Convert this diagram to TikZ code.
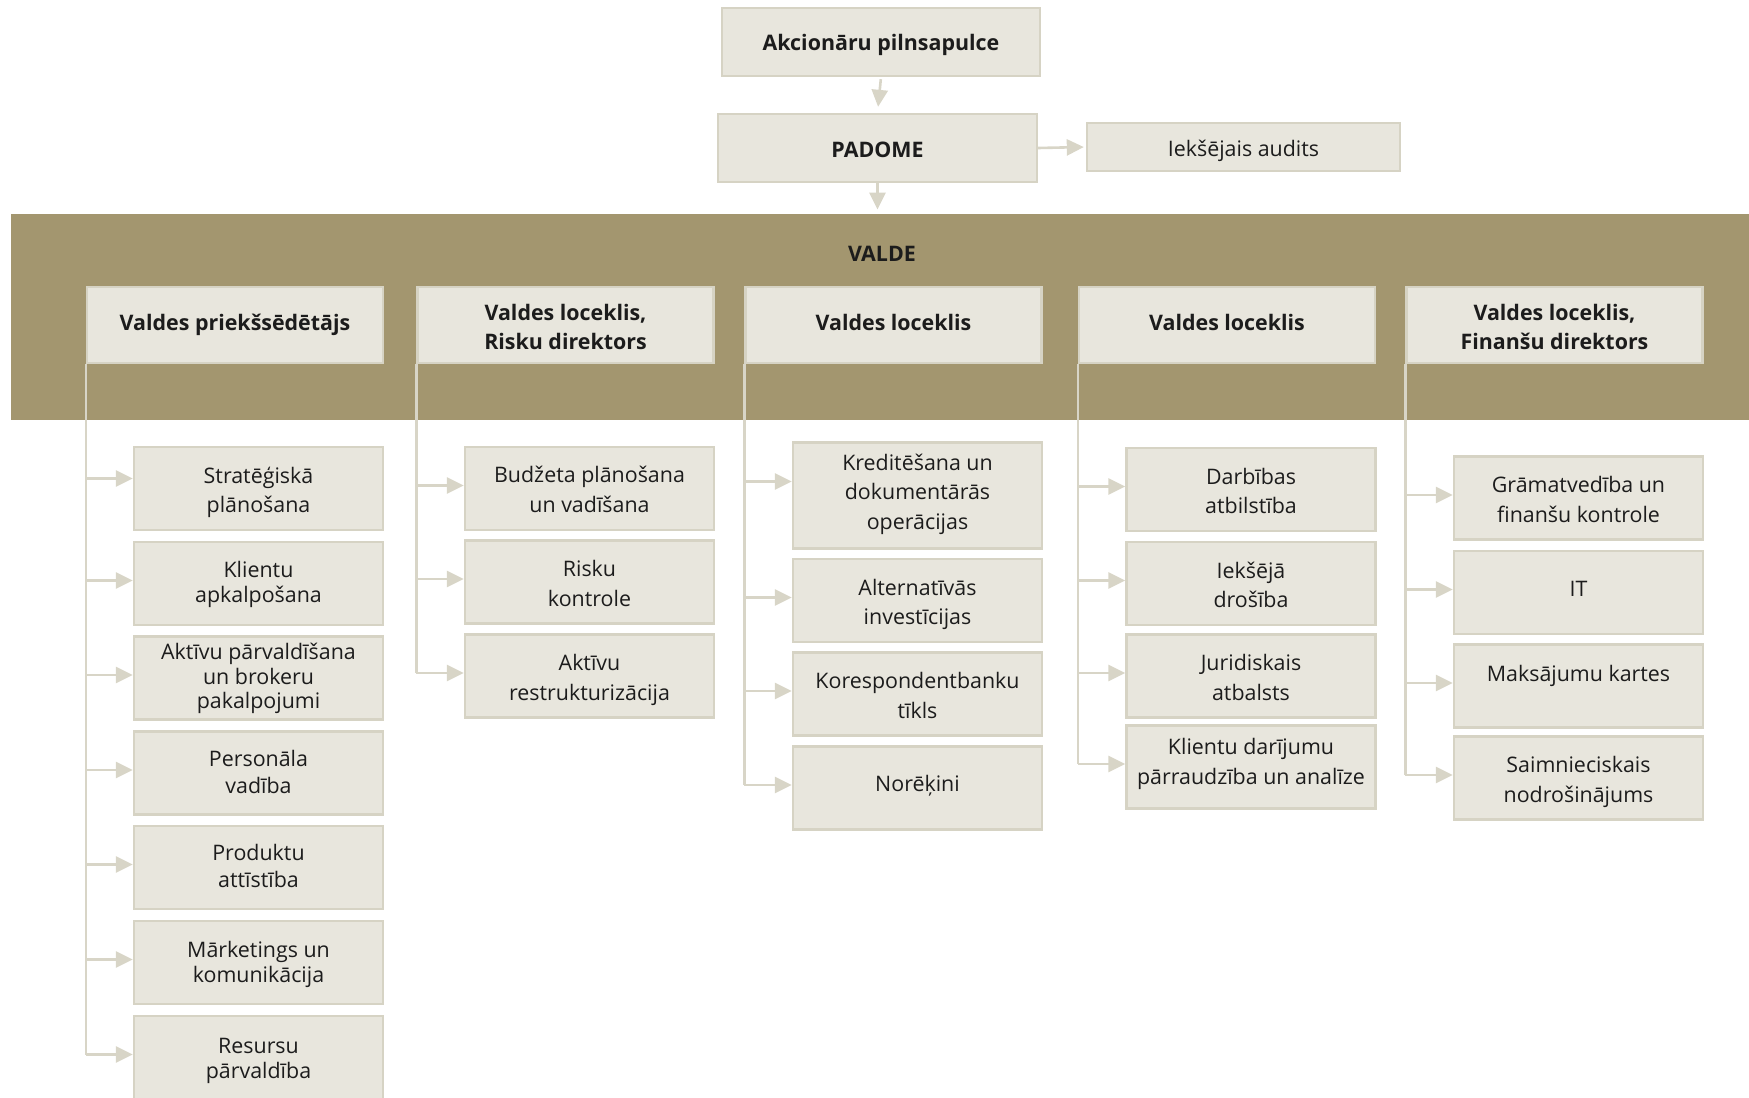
\documentclass[tikz,border=0pt]{standalone}
\usepackage{fontspec}
\setmainfont{Open Sans}
\usetikzlibrary{arrows.meta}
\definecolor{boxfill}{HTML}{E8E6DD}
\definecolor{boxline}{HTML}{D6D3C4}
\definecolor{arrowc}{HTML}{D8D5C7}
\definecolor{bandc}{HTML}{A3966F}
\definecolor{txtc}{HTML}{1C1C1C}
% centred lines with uniform struts; ink moved by #1 (minus a common 1.7pt) without changing the box size
\newcommand{\tlup}[2]{\raisebox{\dimexpr #1-1.7pt\relax}[\height][\depth]{\begin{tabular}{@{}c@{}}#2\end{tabular}}}
\newcommand{\tl}[1]{\tlup{0pt}{#1}}
\begin{document}
\begin{tikzpicture}[x=0.5pt,y=-0.5pt,
  box/.style={draw=boxline, fill=boxfill, line width=1.2pt, inner sep=0pt,
              text=txtc, font=\fontsize{10.7}{14.8}\selectfont},
  hbox/.style={box, minimum width=148pt, minimum height=38pt, font=\fontsize{10.7}{14.2}\selectfont\bfseries},
  cbox/.style={box, minimum width=124.5pt, minimum height=41.5pt},
  tight/.style={font=\fontsize{10.7}{12.9}\selectfont},
  btxt/.style={inner sep=0pt, text=txtc, font=\fontsize{10.7}{14.2}\selectfont\bfseries},
  conn/.style={draw=arrowc, line width=1.3pt},
  arr/.style={conn, -{Triangle[length=8.5pt,width=8pt]}}
]
\useasboundingbox (0,0) rectangle (1749,1097);

% top
\node[box, minimum width=159pt, minimum height=34pt, font=\fontsize{10.7}{14}\selectfont\bfseries] (agm) at (881,42) {\tl{Akcionāru pilnsapulce}};
\node[box, minimum width=159.5pt, minimum height=34pt, font=\fontsize{10.7}{14}\selectfont\bfseries] (padome) at (877.5,148) {\tl{PADOME}};
\node[box, minimum width=156.5pt, minimum height=24pt] (audit) at (1243.5,147) {\tl{Iekšējais audits}};

% band
\node[fill=bandc, inner sep=0pt, minimum width=869pt, minimum height=103pt] (valde) at (880,317) {};
\node[btxt] (valdet) at (882,252) {\tl{VALDE}};

\draw[arr, shorten <=1pt, shorten >=3pt] (agm.south) -- (padome.north);
\draw[arr, shorten >=1pt] (padome.east) -- (audit.west);
\draw[arr, shorten >=2pt] (padome.south) -- (padome.south |- valde.north);

% headers
\node[hbox] (h1) at (235,325) {\tlup{2pt}{Valdes priekšsēdētājs}};
\node[hbox] (h2) at (565.5,325) {\tlup{-0.5pt}{Valdes loceklis,\\Risku direktors}};
\node[hbox] (h3) at (893.5,325) {\tlup{2pt}{Valdes loceklis}};
\node[hbox] (h4) at (1227,325) {\tlup{2pt}{Valdes loceklis}};
\node[hbox] (h5) at (1554.5,325) {\tlup{-0.5pt}{Valdes loceklis,\\Finanšu direktors}};

% column 1
\node[cbox] (c11) at (258.5,488.5) {\tl{Stratēģiskā\\plānošana}};
\node[cbox, tight] (c12) at (258.5,583.5) {\tlup{1pt}{Klientu\\apkalpošana}};
\node[cbox, font=\fontsize{10.7}{12.3}\selectfont] (c13) at (258.5,678) {\tlup{1pt}{Aktīvu pārvaldīšana\\un brokeru\\pakalpojumi}};
\node[cbox, font=\fontsize{10.7}{13.4}\selectfont] (c14) at (258.5,773) {\tlup{1pt}{Personāla\\vadība}};
\node[cbox, font=\fontsize{10.7}{13.4}\selectfont] (c15) at (258.5,867.5) {\tlup{1pt}{Produktu\\attīstība}};
\node[cbox, tight] (c16) at (258.5,962.5) {\tlup{0.5pt}{Mārketings un\\komunikācija}};
\node[cbox, tight] (c17) at (258.5,1057.5) {\tl{Resursu\\pārvaldība}};

% column 2
\node[cbox, font=\fontsize{10.7}{15}\selectfont] (c21) at (589.5,488.5) {\tl{Budžeta plānošana\\un vadīšana}};
\node[cbox, font=\fontsize{10.7}{15}\selectfont] (c22) at (589.5,582) {\tl{Risku\\kontrole}};
\node[cbox, font=\fontsize{10.7}{15}\selectfont] (c23) at (589.5,676) {\tl{Aktīvu\\restrukturizācija}};

% column 3
\node[cbox, minimum height=53pt] (c31) at (917.5,495.5) {\tlup{2.5pt}{Kreditēšana un\\dokumentārās\\operācijas}};
\node[cbox] (c32) at (917.5,600.5) {\tl{Alternatīvās\\investīcijas}};
\node[cbox] (c33) at (917.5,694) {\tl{Korespondentbanku\\tīkls}};
\node[cbox] (c34) at (917.5,788) {\tlup{3pt}{Norēķini}};

% column 4
\node[cbox] (c41) at (1251,489.5) {\tl{Darbības\\atbilstība}};
\node[cbox] (c42) at (1251,583.5) {\tl{Iekšējā\\drošība}};
\node[cbox] (c43) at (1251,676) {\tl{Juridiskais\\atbalsts}};
\node[cbox] (c44) at (1251,767) {\tlup{3.5pt}{Klientu darījumu\\pārraudzība un analīze}};

% column 5
\node[cbox] (c51) at (1578.5,498) {\tl{Grāmatvedība un\\finanšu kontrole}};
\node[cbox] (c52) at (1578.5,592.5) {\tlup{2.8pt}{IT}};
\node[cbox] (c53) at (1578.5,686) {\tlup{6.7pt}{Maksājumu kartes}};
\node[cbox] (c54) at (1578.5,778) {\tl{Saimnieciskais\\nodrošinājums}};

% arrow end points
\coordinate (a11) at ([yshift=5pt]c11.west);
\foreach \n in {12,13,14,15,16,17,21,22,23,32,33,34,41,42,43,44,51,52,53,54}
  \coordinate (a\n) at ([yshift=1.5pt]c\n.west);
\coordinate (a31) at ([yshift=7pt]c31.west);

% trunks
\draw[conn] (h1.south west) -- (h1.south west |- a17);
\draw[conn] (h2.south west) -- (h2.south west |- a23);
\draw[conn] (h3.south west) -- (h3.south west |- a34);
\draw[conn] (h4.south west) -- (h4.south west |- a44);
\draw[conn] (h5.south west) -- (h5.south west |- a54);

% branches
\foreach \n in {11,12,13,14,15,16,17}
  \draw[arr] (h1.south west |- a\n) -- (a\n);
\foreach \n in {21,22,23}
  \draw[arr] (h2.south west |- a\n) -- (a\n);
\foreach \n in {31,32,33,34}
  \draw[arr] (h3.south west |- a\n) -- (a\n);
\foreach \n in {41,42,43,44}
  \draw[arr] (h4.south west |- a\n) -- (a\n);
\foreach \n in {51,52,53,54}
  \draw[arr] (h5.south west |- a\n) -- (a\n);
\end{tikzpicture}
\end{document}
